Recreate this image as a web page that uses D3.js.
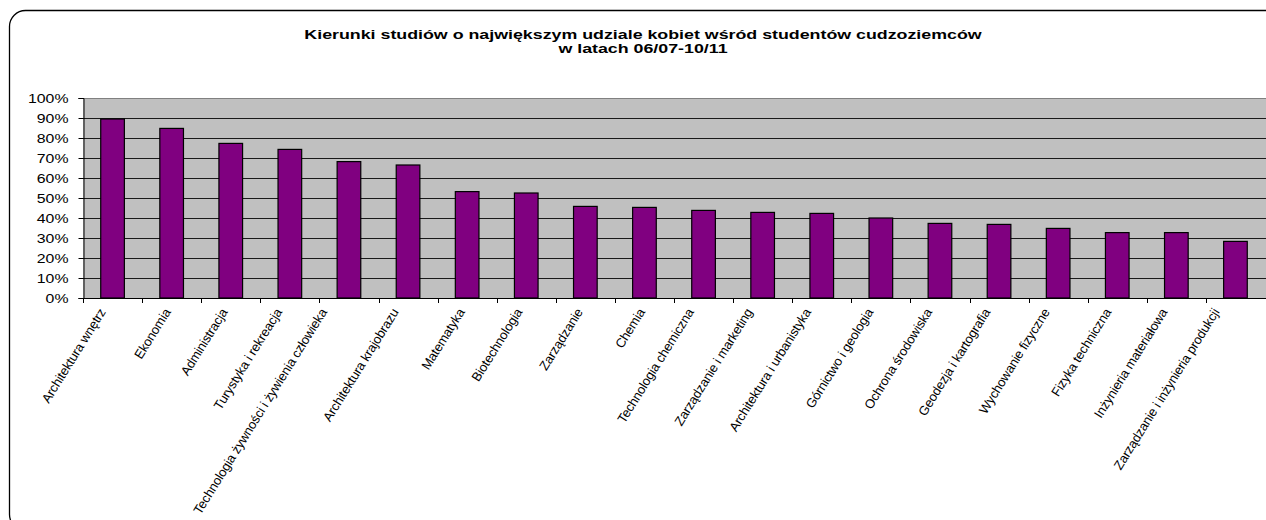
<!DOCTYPE html>
<html>
<head>
<meta charset="utf-8">
<script src="https://cdn.jsdelivr.net/npm/d3@7"></script>
<style>
  html, body { margin: 0; padding: 0; background: #fff; }
  svg { display: block; }
  text { font-family: "Liberation Sans", Arial, sans-serif; fill: #000; }
</style>
</head>
<body>
<svg id="chart" width="1266" height="520"></svg>
<script>
const titleLines = ["Kierunki studiów o największym udziale kobiet wśród studentów cudzoziemców", "w latach 06/07-10/11"];
const categories = [
  "Architektura wnętrz", "Ekonomia", "Administracja", "Turystyka i rekreacja",
  "Technologia żywności i żywienia człowieka", "Architektura krajobrazu", "Matematyka",
  "Biotechnologia", "Zarządzanie", "Chemia", "Technologia chemiczna",
  "Zarządzanie i marketing", "Architektura i urbanistyka", "Górnictwo i geologia",
  "Ochrona środowiska", "Geodezja i kartografia", "Wychowanie fizyczne",
  "Fizyka techniczna", "Inżynieria materiałowa", "Zarządzanie i inżynieria produkcji"
];
const values = [0.895, 0.848, 0.773, 0.743, 0.682, 0.665, 0.532, 0.525, 0.458, 0.453,
                0.438, 0.428, 0.423, 0.400, 0.373, 0.368, 0.348, 0.327, 0.327, 0.283];
const yTicks = [0, 0.1, 0.2, 0.3, 0.4, 0.5, 0.6, 0.7, 0.8, 0.9, 1.0];

(function () {
const svg = d3.select("#chart");
const stretch = 1.22;

const pLeft = 83, pRight = 1265, pTop = 98, pBottom = 298;

// outer frame
svg.append("rect")
  .attr("x", 9.5).attr("y", 10.5)
  .attr("width", 1300).attr("height", 520)
  .attr("rx", 16).attr("ry", 16)
  .attr("fill", "#fff").attr("stroke", "#000").attr("stroke-width", 1.3);

// title
const title = svg.append("g").attr("transform", `translate(643,0) scale(1.37,1)`);
titleLines.forEach((t, i) => {
  title.append("text")
    .attr("x", 0).attr("y", 39 + i * 14.5)
    .attr("text-anchor", "middle")
    .style("font-size", "13px").style("font-weight", "bold")
    .text(t);
});

const x = d3.scaleBand().domain(categories).range([pLeft, pRight]).paddingInner(0.6).paddingOuter(0.3);
const y = d3.scaleLinear().domain([0, 1]).range([pBottom, pTop]);

// plot background
svg.append("rect")
  .attr("x", pLeft).attr("y", pTop)
  .attr("width", 1266 - pLeft + 2).attr("height", pBottom - pTop)
  .attr("fill", "#c0c0c0");

// top border of plot
svg.append("line")
  .attr("x1", pLeft).attr("x2", 1268)
  .attr("y1", Math.round(y(1)) + 0.5).attr("y2", Math.round(y(1)) + 0.5)
  .attr("stroke", "#808080").attr("stroke-width", 1);

// gridlines
svg.append("g").selectAll("line")
  .data(yTicks.filter(d => d > 0 && d < 1))
  .join("line")
  .attr("x1", pLeft).attr("x2", 1268)
  .attr("y1", d => Math.round(y(d)) + 0.5).attr("y2", d => Math.round(y(d)) + 0.5)
  .attr("stroke", "#1a1a1a").attr("stroke-width", 1);

// bars
svg.append("g").selectAll("rect")
  .data(values)
  .join("rect")
  .attr("x", (d, i) => x(categories[i]))
  .attr("y", d => y(d))
  .attr("width", x.bandwidth())
  .attr("height", d => y(0) - y(d))
  .attr("fill", "#800080")
  .attr("stroke", "#000").attr("stroke-width", 1.2);

// y axis
const yAxis = d3.axisLeft(y).tickValues(yTicks).tickFormat(d3.format(".0%")).tickSize(5).tickPadding(0);
const yg = svg.append("g").attr("transform", `translate(${pLeft + 0.5},0)`).call(yAxis);
yg.select(".domain").attr("stroke", "#000");
yg.selectAll(".tick line").attr("stroke", "#000");
yg.selectAll(".tick text")
  .attr("x", 0).attr("dy", "0.36em")
  .style("font-size", "13px").style("font-family", '"Liberation Sans", Arial, sans-serif')
  .attr("text-anchor", "end")
  .attr("transform", `translate(-15,0) scale(${stretch},1)`);

// x axis line
svg.append("line")
  .attr("x1", pLeft).attr("x2", 1268)
  .attr("y1", pBottom + 0.5).attr("y2", pBottom + 0.5)
  .attr("stroke", "#000");

// x ticks at category boundaries
const step = x.step();
svg.append("g").selectAll("line")
  .data(categories)
  .join("line")
  .attr("x1", d => Math.round(x(d) - x.paddingOuter() * step) + 0.5)
  .attr("x2", d => Math.round(x(d) - x.paddingOuter() * step) + 0.5)
  .attr("y1", pBottom).attr("y2", pBottom + 5)
  .attr("stroke", "#000");

// x labels
const labels = svg.append("g").selectAll("text")
  .data(categories)
  .join("text")
  .attr("text-anchor", "end")
  .style("font-size", "13px")
  .style("letter-spacing", "-0.15px")
  .text(d => d);
labels.each(function (d) {
  const L = this.getComputedTextLength();
  const ax = x(d) + x.bandwidth() / 2 + 6 - 0.115 * L;
  d3.select(this).attr("transform", `translate(${ax},${pBottom + 14}) rotate(-58)`);
});
})();
</script>
</body>
</html>
